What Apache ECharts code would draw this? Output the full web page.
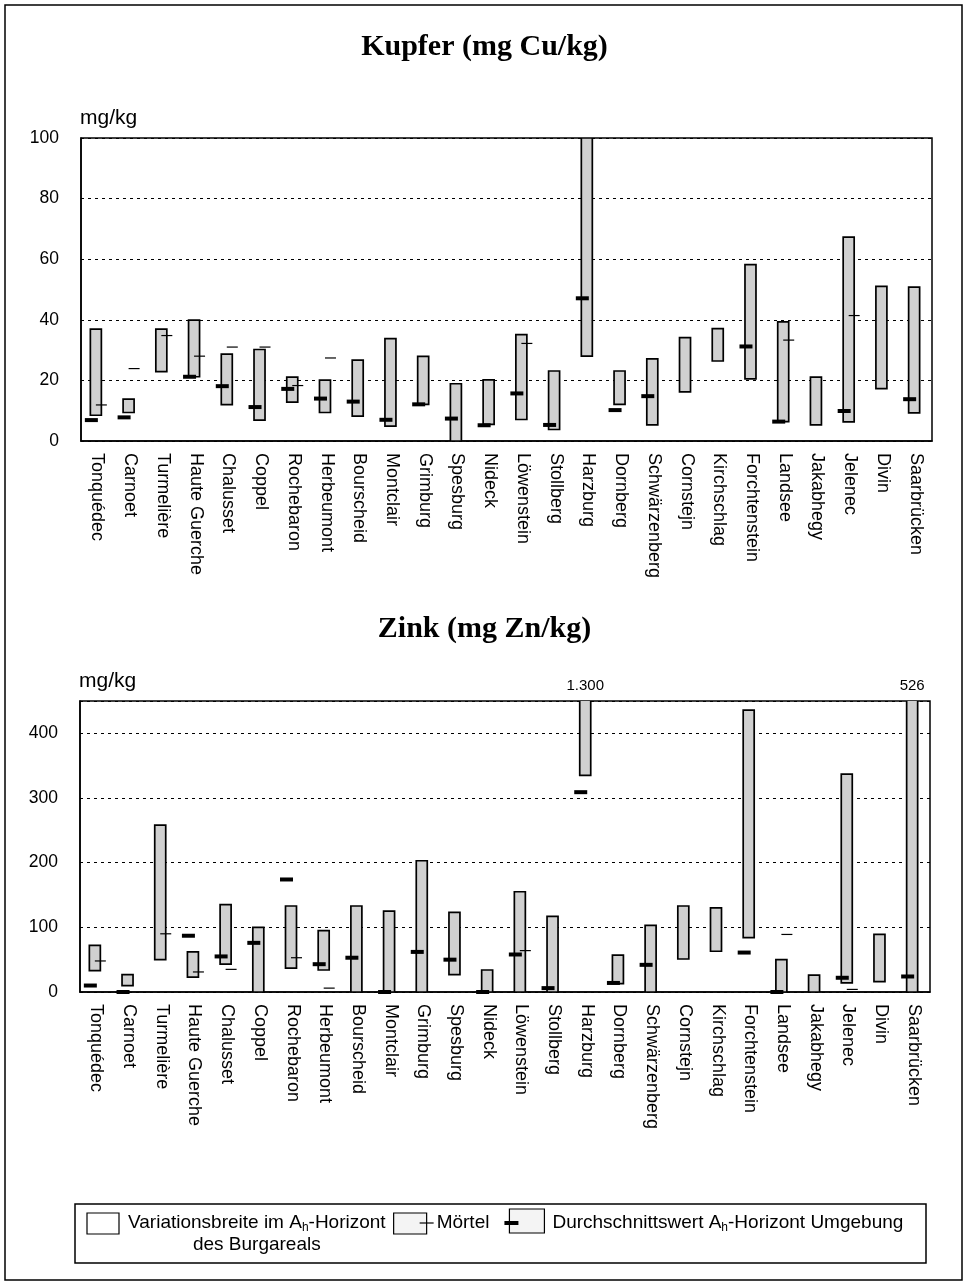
<!DOCTYPE html>
<html>
<head>
<meta charset="utf-8">
<script src="https://cdn.jsdelivr.net/npm/echarts@6/dist/echarts.min.js"></script>
<style>
  html, body { margin: 0; padding: 0; background: #fff; }
  #chart { width: 969px; height: 1284px; }
</style>
</head>
<body>
<div id="chart"></div>
<script>
// Castle sites (same order in both panels)
const categories = ['Tonquédec', 'Carnoet', 'Turmelière', 'Haute Guerche', 'Chalusset', 'Coppel',
  'Rochebaron', 'Herbeumont', 'Bourscheid', 'Montclair', 'Grimburg', 'Spesburg', 'Nideck',
  'Löwenstein', 'Stollberg', 'Harzburg', 'Dornberg', 'Schwärzenberg', 'Cornstejn', 'Kirchschlag',
  'Forchtenstein', 'Landsee', 'Jakabhegy', 'Jelenec', 'Divin', 'Saarbrücken'];

// Kupfer (mg Cu/kg): range within the castle area, mortar value, surrounding mean
const cuLow  = [8.5, 9.4, 22.9, 21.2, 12, 6.9, 12.8, 9.4, 8.2, 4.9, 12.1, 0, 5.5, 7.1, 3.8, 28, 12.1, 5.3, 16.2, 26.4, 20.5, 6.4, 5.3, 6.3, 17.3, 9.3];
const cuHigh = [36.9, 13.8, 36.9, 39.9, 28.7, 30.2, 21.1, 20.1, 26.7, 33.8, 27.9, 18.9, 20.2, 35.1, 23.1, 100, 23.1, 27.1, 34.1, 37.1, 58.2, 39.3, 21.1, 67.3, 51, 50.8];
const cuMortar = [11.9, 23.9, 34.8, 28, 31, 31, 18.3, 27.4, null, null, null, null, null, 32.2, null, null, null, null, null, null, null, 33.3, null, 41.4, null, null];
const cuMean = [6.9, 7.8, null, 21.2, 18.1, 11.2, 17.2, 14, 13, 7, 12.1, 7.4, 5.2, 15.7, 5.3, 47.1, 10.2, 14.8, null, null, 31.2, 6.4, null, 9.9, null, 13.8];

// Zink (mg Zn/kg)
const znLow  = [33, 10, 50, 23, 43, 0, 37, 34, 0, 0, 0, 27, 0, 0, 0, 335, 13, 0, 51, 63, 84, 0, 0, 14, 16, 0];
const znHigh = [72, 27, 258, 62, 135, 100, 133, 95, 133, 125, 203, 123, 34, 155, 117, 1300, 57, 103, 133, 130, 436, 50, 26, 337, 89, 526];
const znMortar = [48, null, 90, 31, 35, null, 53, 6, null, null, null, null, null, 64, null, null, null, null, null, null, null, 89, null, 4, null, null];
const znMean = [10, 0, null, 87, 55, 76, 174, 43, 53, 0, 62, 50, 0, 58, 6, 309, 14, 42, null, null, 61, 0, null, 22, null, 24];

// Value axes
const cuAxis = { min: 0, max: 100, interval: 20 };
const znAxis = { min: 0, max: 450, interval: 100 };

const BAR_W = 11;
const BAR_SHIFT = -1.5;
const FILL = '#d0d0d0';

function ranges(lo, hi) { return lo.map((v, i) => [i, v, hi[i]]); }
function points(arr) {
  const out = [];
  arr.forEach((v, i) => { if (v !== null) out.push([i, v]); });
  return out;
}
function overflow(hi, max) {
  const out = [];
  hi.forEach((v, i) => { if (v > max) out.push([i, v]); });
  return out;
}
function germanNumber(v) {
  return String(v).replace(/\B(?=(\d{3})+(?!\d))/g, '.');
}

function rangeItem(params, api) {
  const top = api.coord([api.value(0), api.value(2)]);
  const bot = api.coord([api.value(0), api.value(1)]);
  const cx = top[0] + BAR_SHIFT;
  return {
    type: 'rect',
    shape: { x: cx - BAR_W / 2, y: top[1], width: BAR_W, height: bot[1] - top[1] },
    style: { fill: FILL, stroke: '#000', lineWidth: 1.7 }
  };
}
function meanItem(params, api) {
  const p = api.coord([api.value(0), api.value(1)]);
  const cx = p[0] + BAR_SHIFT;
  return {
    type: 'rect',
    shape: { x: cx - 11, y: p[1] - 2, width: 13, height: 4 },
    style: { fill: '#000' }
  };
}
function mortarItem(params, api) {
  const p = api.coord([api.value(0), api.value(1)]);
  const cx = p[0] + BAR_SHIFT;
  return {
    type: 'line',
    shape: { x1: cx, y1: p[1], x2: cx + 11, y2: p[1] },
    style: { stroke: '#000', lineWidth: 1.2 }
  };
}
function overflowItem(max) {
  return function (params, api) {
    const p = api.coord([api.value(0), max]);
    return {
      type: 'text',
      x: p[0] + BAR_SHIFT, y: p[1] - 15,
      style: {
        text: germanNumber(api.value(1)),
        fill: '#000', font: '15px "Liberation Sans", Arial, sans-serif',
        align: 'center', verticalAlign: 'middle'
      }
    };
  };
}

const SANS = '"Liberation Sans", Arial, sans-serif';

function xAxisCfg(gi) {
  return {
    type: 'category', gridIndex: gi, data: categories,
    axisTick: { show: false },
    axisLine: { lineStyle: { color: '#000', width: 1.5 } },
    axisLabel: { rotate: -90, fontSize: 18, color: '#000', fontFamily: SANS, margin: 12, interval: 0 }
  };
}
function yAxisCfg(gi, ax) {
  return {
    type: 'value', gridIndex: gi, min: ax.min, max: ax.max, interval: ax.interval,
    name: 'mg/kg', nameLocation: 'end', nameGap: 9,
    nameTextStyle: { fontSize: 21, color: '#000', fontFamily: SANS, align: 'left', verticalAlign: 'bottom', padding: [0, 0, 0, -1] },
    axisTick: { show: false },
    axisLine: { show: true, lineStyle: { color: '#000', width: 1.5 } },
    axisLabel: {
      fontSize: 17.5, color: '#000', fontFamily: SANS, margin: 22,
      formatter: v => (v % ax.interval === 0 ? String(v) : '')
    },
    splitLine: { show: true, lineStyle: { color: '#000', width: 1, type: [3, 4] } }
  };
}

function panelSeries(gi, lo, hi, mortar, mean, ax) {
  return [
    { type: 'custom', xAxisIndex: gi, yAxisIndex: gi, clip: true, z: 2,
      renderItem: rangeItem, data: ranges(lo, hi) },
    { type: 'custom', xAxisIndex: gi, yAxisIndex: gi, clip: true, z: 3,
      renderItem: mortarItem, data: points(mortar) },
    { type: 'custom', xAxisIndex: gi, yAxisIndex: gi, clip: false, z: 4,
      renderItem: meanItem, data: points(mean) },
    { type: 'custom', xAxisIndex: gi, yAxisIndex: gi, clip: false, z: 4,
      renderItem: overflowItem(ax.max), data: overflow(hi, ax.max) }
  ];
}

// Legend helpers
const measureCtx = document.createElement('canvas').getContext('2d');
function textWidth(t, font) { measureCtx.font = font; return measureCtx.measureText(t).width; }
const LEG_FONT = '19px ' + SANS;
const SUB_FONT = '12px ' + SANS;

function subscriptText(x, y, before, sub, after) {
  const w1 = textWidth(before, LEG_FONT);
  const w2 = textWidth(sub, SUB_FONT);
  const w3 = textWidth(after, LEG_FONT);
  const els = [
    { type: 'text', x: x, y: y, style: { text: before, font: LEG_FONT, fill: '#000', verticalAlign: 'middle' } },
    { type: 'text', x: x + w1, y: y + 5, style: { text: sub, font: SUB_FONT, fill: '#000', verticalAlign: 'middle' } },
    { type: 'text', x: x + w1 + w2, y: y, style: { text: after, font: LEG_FONT, fill: '#000', verticalAlign: 'middle' } }
  ];
  return { els: els, width: w1 + w2 + w3 };
}

const legendY = 1223;
const legendEls = [];
legendEls.push({ type: 'rect', shape: { x: 75, y: 1204, width: 851, height: 59 },
  style: { fill: 'none', stroke: '#000', lineWidth: 1.5 } });
legendEls.push({ type: 'rect', shape: { x: 87, y: 1213, width: 32, height: 21 },
  style: { fill: '#fff', stroke: '#000', lineWidth: 1.2 } });
const t1 = subscriptText(128, legendY, 'Variationsbreite im A', 'h', '-Horizont');
legendEls.push(...t1.els);
legendEls.push({ type: 'text', x: 128 + t1.width / 2, y: 1245,
  style: { text: 'des Burgareals', font: LEG_FONT, fill: '#000', align: 'center', verticalAlign: 'middle' } });
let lx = 128 + t1.width + 8;
legendEls.push({ type: 'rect', shape: { x: lx, y: 1213, width: 33, height: 21 },
  style: { fill: '#f4f4f4', stroke: '#000', lineWidth: 1.2 } });
legendEls.push({ type: 'line', shape: { x1: lx + 26, y1: legendY, x2: lx + 40, y2: legendY },
  style: { stroke: '#000', lineWidth: 1.2 } });
legendEls.push({ type: 'text', x: lx + 43, y: legendY,
  style: { text: 'Mörtel', font: LEG_FONT, fill: '#000', verticalAlign: 'middle' } });
lx = lx + 43 + textWidth('Mörtel', LEG_FONT) + 15;
legendEls.push({ type: 'rect', shape: { x: lx + 5, y: 1209, width: 35, height: 24 },
  style: { fill: '#f4f4f4', stroke: '#000', lineWidth: 1.2 } });
legendEls.push({ type: 'rect', shape: { x: lx, y: legendY - 2, width: 14, height: 4 },
  style: { fill: '#000' } });
const t3 = subscriptText(lx + 48, legendY, 'Durchschnittswert A', 'h', '-Horizont Umgebung');
legendEls.push(...t3.els);

const TITLE_STYLE = { fontFamily: '"Liberation Serif", "Times New Roman", serif', fontWeight: 'bold', fontSize: 30, color: '#000' };

const chart = echarts.init(document.getElementById('chart'), null, { renderer: 'canvas' });
chart.setOption({
  backgroundColor: '#fff',
  animation: false,
  title: [
    { text: 'Kupfer (mg Cu/kg)', left: 'center', top: 27, textStyle: TITLE_STYLE },
    { text: 'Zink (mg Zn/kg)', left: 'center', top: 609, textStyle: TITLE_STYLE }
  ],
  grid: [
    { left: 81, right: 37, top: 138, height: 303, show: true, borderColor: '#000', borderWidth: 1.5 },
    { left: 80, right: 39, top: 701, height: 291, show: true, borderColor: '#000', borderWidth: 1.5 }
  ],
  xAxis: [xAxisCfg(0), xAxisCfg(1)],
  yAxis: [yAxisCfg(0, cuAxis), yAxisCfg(1, znAxis)],
  series: [
    ...panelSeries(0, cuLow, cuHigh, cuMortar, cuMean, cuAxis),
    ...panelSeries(1, znLow, znHigh, znMortar, znMean, znAxis)
  ],
  graphic: [
    { type: 'rect', shape: { x: 5, y: 5, width: 957, height: 1275 },
      style: { fill: 'none', stroke: '#000', lineWidth: 1.5 }, z: -1 },
    { type: 'group', children: legendEls }
  ]
});
</script>
</body>
</html>
